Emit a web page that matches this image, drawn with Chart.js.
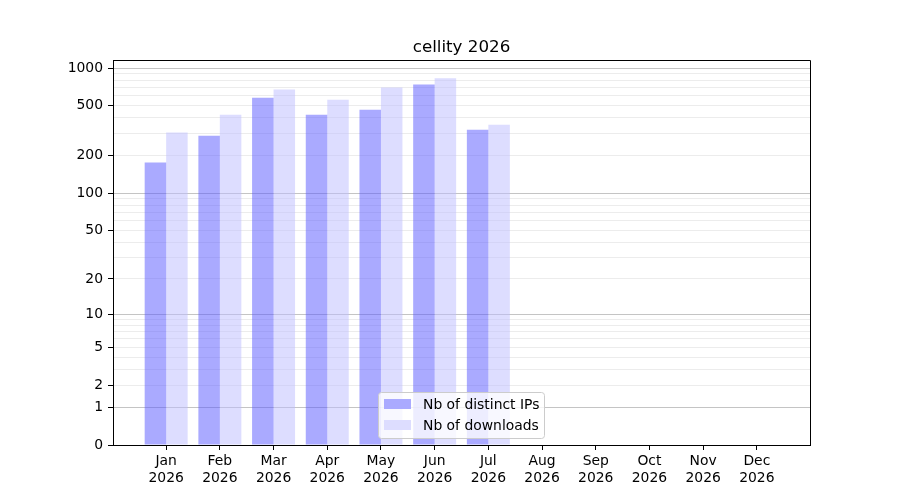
<!DOCTYPE html>
<html>
<head>
<meta charset="utf-8">
<title>cellity 2026</title>
<script src="https://cdn.jsdelivr.net/npm/chart.js@4/dist/chart.umd.min.js"></script>
<style>
  html, body { margin: 0; padding: 0; background: #fff; }
  #wrap { width: 900px; height: 500px; }
</style>
</head>
<body>
<div id="wrap"><canvas id="chart" width="900" height="500"></canvas></div>
<script>
// chart data
const months = ["Jan", "Feb", "Mar", "Apr", "May", "Jun", "Jul", "Aug", "Sep", "Oct", "Nov", "Dec"];
const year = "2026";
const distinctIps = [176, 289, 581, 425, 466, 739, 323, 0, 0, 0, 0, 0];
const downloads = [306, 425, 674, 560, 699, 830, 354, 0, 0, 0, 0, 0];
const yLabelTicks = [0, 1, 2, 5, 10, 20, 50, 100, 200, 500, 1000];
const yMajorTicks = [1, 10, 100, 1000];
const yGridTicks = [0, 1, 2, 3, 4, 5, 6, 7, 8, 9, 10, 20, 30, 40, 50, 60, 70, 80, 90,
                    100, 200, 300, 400, 500, 600, 700, 800, 900, 1000];

// y scale: log10(1 + v), so 0 sits on the axis
class Log1pScale extends Chart.Scale {
    static id = "log1p";
    static defaults = {};

    parse(raw) {
        return raw == null ? null : +raw;
    }

    determineDataLimits() {
        const { max } = this.getMinMax(true);
        this.min = this.options.min ?? 0;
        this.max = this.options.max ?? max;
    }

    buildTicks() {
        return yGridTicks.map(v => ({ value: v }));
    }

    getLabelForValue(value) {
        return String(value);
    }

    configure() {
        super.configure();
        this._startValue = Math.log10(1 + this.min);
        this._valueRange = Math.log10(1 + this.max) - this._startValue;
    }

    getPixelForValue(value) {
        if (value == null || isNaN(value)) value = this.min;
        return this.getPixelForDecimal((Math.log10(1 + value) - this._startValue) / this._valueRange);
    }

    getValueForPixel(pixel) {
        const d = this.getDecimalForPixel(pixel);
        return Math.pow(10, this._startValue + d * this._valueRange) - 1;
    }
}
Chart.register(Log1pScale);

// top and right spines, title centred over the plot
const frame = {
    id: "frame",
    afterDatasetsDraw(chart) {
        const { ctx, chartArea: a } = chart;
        ctx.save();
        ctx.strokeStyle = "#000";
        ctx.lineWidth = 1;
        ctx.beginPath();
        ctx.moveTo(Math.round(a.left) + 0.5, Math.round(a.top) + 0.5);
        ctx.lineTo(Math.round(a.right) + 0.5, Math.round(a.top) + 0.5);
        ctx.lineTo(Math.round(a.right) + 0.5, Math.round(a.bottom) + 0.5);
        ctx.stroke();

        ctx.font = "16.7px 'DejaVu Sans'";
        ctx.fillStyle = "#000";
        ctx.textAlign = "center";
        ctx.textBaseline = "alphabetic";
        ctx.fillText(chart.options.plugins.chartTitle.text, (a.left + a.right) / 2, a.top - 8);
        ctx.restore();
    }
};

// legend box inside the plot, lower centre
const legendBox = {
    id: "legendBox",
    afterDraw(chart) {
        const { ctx } = chart;
        const x = 378.5, y = 392.5, w = 166, h = 46;
        ctx.save();
        ctx.beginPath();
        ctx.roundRect(x, y, w, h, 3);
        ctx.fillStyle = "rgba(255,255,255,0.8)";
        ctx.fill();
        ctx.strokeStyle = "#cccccc";
        ctx.lineWidth = 1;
        ctx.stroke();
        ctx.font = "13.9px 'DejaVu Sans'";
        ctx.textBaseline = "middle";
        chart.data.datasets.forEach((ds, i) => {
            const rowY = 404 + i * 21;
            ctx.fillStyle = "#fff";
            ctx.fillRect(384, rowY - 5, 27, 10);
            ctx.fillStyle = ds.backgroundColor;
            ctx.fillRect(384, rowY - 5, 27, 10);
            ctx.fillStyle = "#000";
            ctx.fillText(ds.label, 423, rowY + 1);
        });
        ctx.restore();
    }
};

Chart.defaults.font.family = "'DejaVu Sans'";
Chart.defaults.font.size = 13.9;
Chart.defaults.color = "#000";

const ctx = document.getElementById("chart").getContext("2d");
new Chart(ctx, {
    type: "bar",
    data: {
        datasets: [{
            label: "Nb of distinct IPs",
            data: distinctIps.map((v, i) => ({ x: i, y: v })),
            backgroundColor: "rgba(85, 85, 255, 0.5)",
            borderWidth: 0,
            categoryPercentage: 0.8,
            barPercentage: 1.0
        }, {
            label: "Nb of downloads",
            data: downloads.map((v, i) => ({ x: i, y: v })),
            backgroundColor: "rgba(187, 187, 255, 0.5)",
            borderWidth: 0,
            categoryPercentage: 0.8,
            barPercentage: 1.0
        }]
    },
    options: {
        responsive: false,
        animation: false,
        devicePixelRatio: 1,
        layout: { padding: { left: 0, right: 90, top: 60, bottom: 0 } },
        plugins: {
            legend: { display: false },
            tooltip: { enabled: false },
            title: { display: false },
            chartTitle: { text: "cellity " + year }
        },
        scales: {
            x: {
                type: "linear",
                min: -0.99,
                max: 11.99,
                offset: false,
                afterFit: scale => { scale.height = 55; },
                afterBuildTicks: scale => {
                    scale.ticks = months.map((m, i) => ({ value: i }));
                },
                ticks: {
                    autoSkip: false,
                    maxRotation: 0,
                    padding: 3,
                    callback: value => [months[value], year]
                },
                grid: {
                    offset: false,
                    drawOnChartArea: false,
                    drawTicks: true,
                    tickLength: 5,
                    tickColor: "#000"
                },
                border: { display: true, color: "#000", width: 1 }
            },
            y: {
                type: "log1p",
                min: 0,
                max: 1160,
                afterFit: scale => { scale.width = 113; },
                ticks: {
                    autoSkip: false,
                    padding: 5,
                    callback: value => yLabelTicks.includes(value) ? String(value) : ""
                },
                grid: {
                    drawTicks: true,
                    tickLength: 5,
                    color: c => {
                        const v = c.tick ? c.tick.value : null;
                        if (v === 0) return "rgba(0,0,0,0)";
                        return yMajorTicks.includes(v) ? "#c4c4c4" : "#ececec";
                    },
                    tickColor: c => {
                        const v = c.tick ? c.tick.value : null;
                        return yLabelTicks.includes(v) ? "#000" : "rgba(0,0,0,0)";
                    }
                },
                border: { display: true, color: "#000", width: 1 }
            }
        }
    },
    plugins: [frame, legendBox]
});
</script>
</body>
</html>
